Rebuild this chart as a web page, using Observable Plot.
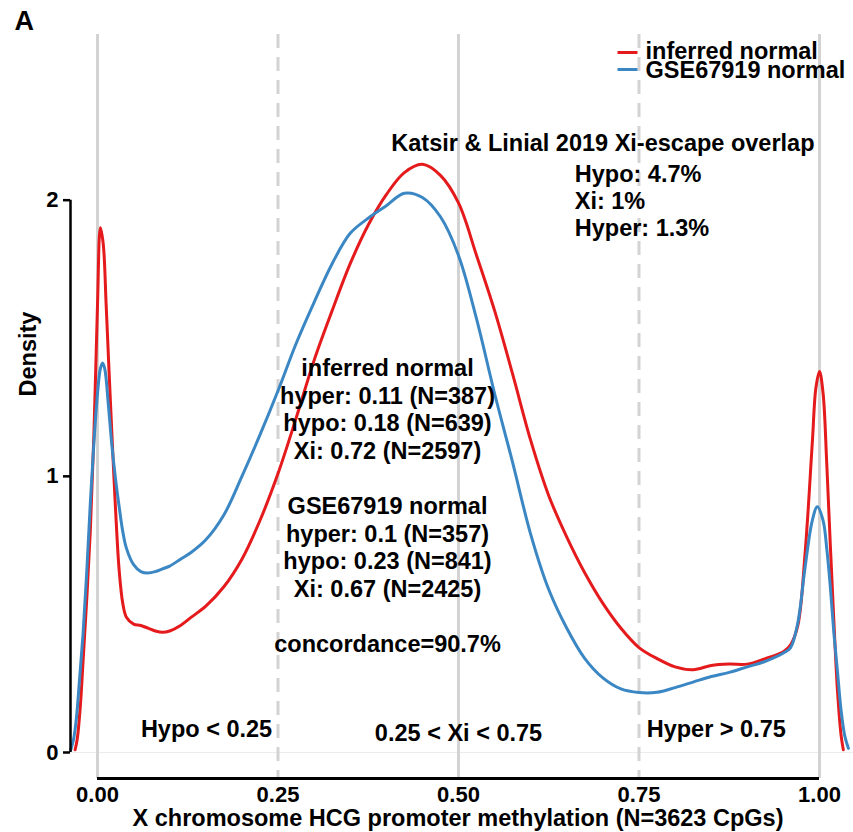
<!DOCTYPE html>
<html>
<head>
<meta charset="utf-8">
<script src="https://cdn.jsdelivr.net/npm/d3@7"></script>
<script src="https://cdn.jsdelivr.net/npm/@observablehq/plot@0.6"></script>
<style>
  html, body { margin: 0; padding: 0; background: #fff; }
</style>
</head>
<body>
<div id="chart"></div>
<script>
// ---- data ----
const seriesNames = ["inferred normal", "GSE67919 normal"];
const seriesColors = ["#E41A1C", "#3B87C4"];

const inferredX = [-0.031,-0.028,-0.024,-0.02,-0.015,-0.01,-0.005,0,0.004,0.008,0.012,0.016,0.02,0.025,0.03,0.035,0.04,0.05,0.06,0.07,0.08,0.09,0.10,0.115,0.13,0.15,0.175,0.20,0.225,0.25,0.275,0.30,0.325,0.35,0.375,0.40,0.425,0.45,0.475,0.50,0.525,0.55,0.575,0.60,0.625,0.65,0.675,0.70,0.725,0.75,0.775,0.80,0.825,0.85,0.875,0.90,0.925,0.95,0.96,0.97,0.98,0.99,0.995,1.0,1.005,1.01,1.015,1.02,1.025,1.03,1.033];
const inferredY = [0.01,0.05,0.16,0.33,0.55,0.80,1.15,1.62,1.90,1.84,1.62,1.38,1.15,0.88,0.66,0.54,0.49,0.465,0.46,0.45,0.44,0.435,0.44,0.46,0.49,0.53,0.60,0.70,0.84,1.01,1.21,1.42,1.60,1.77,1.91,2.02,2.10,2.13,2.09,1.99,1.80,1.60,1.37,1.13,0.93,0.78,0.65,0.54,0.45,0.38,0.34,0.31,0.30,0.315,0.32,0.32,0.34,0.365,0.39,0.46,0.72,1.12,1.32,1.38,1.30,1.05,0.75,0.47,0.22,0.06,0.01];

const gseX = [-0.037,-0.033,-0.029,-0.025,-0.02,-0.015,-0.01,-0.005,0,0.004,0.007,0.01,0.015,0.02,0.025,0.03,0.035,0.04,0.05,0.06,0.07,0.08,0.09,0.10,0.115,0.13,0.15,0.175,0.20,0.225,0.25,0.275,0.30,0.325,0.35,0.375,0.40,0.425,0.45,0.475,0.50,0.525,0.55,0.575,0.60,0.625,0.65,0.675,0.70,0.725,0.75,0.775,0.80,0.825,0.85,0.875,0.90,0.925,0.95,0.96,0.97,0.98,0.99,0.997,1.005,1.01,1.015,1.02,1.025,1.03,1.035,1.04];
const gseY = [0.01,0.05,0.13,0.26,0.43,0.65,0.90,1.12,1.30,1.39,1.41,1.39,1.26,1.11,0.99,0.89,0.80,0.74,0.68,0.655,0.65,0.655,0.665,0.675,0.70,0.725,0.77,0.86,1.00,1.15,1.31,1.48,1.63,1.77,1.88,1.935,1.98,2.025,2.01,1.94,1.80,1.57,1.30,1.05,0.79,0.59,0.45,0.34,0.27,0.23,0.217,0.218,0.235,0.255,0.275,0.29,0.31,0.33,0.36,0.38,0.47,0.67,0.84,0.89,0.84,0.74,0.60,0.43,0.29,0.15,0.06,0.015];

const xTicks = [0, 0.25, 0.5, 0.75, 1];
const yTicks = [0, 1, 2];
const solidGuides = [0, 0.5, 1];
const dashedGuides = [0.25, 0.75];

const regionLabels = ["Hypo < 0.25", "0.25 < Xi < 0.75", "Hyper > 0.75"];
const regionX = [0.151, 0.5, 0.857];
const regionY = [0.083, 0.069, 0.083];

const katsirTitle = "Katsir & Linial 2019 Xi-escape overlap";
const katsirLines = ["Hypo: 4.7%", "Xi: 1%", "Hyper: 1.3%"];
const statsLines = [
  "inferred normal", "hyper: 0.11 (N=387)", "hypo: 0.18 (N=639)", "Xi: 0.72 (N=2597)", "",
  "GSE67919 normal", "hyper: 0.1 (N=357)", "hypo: 0.23 (N=841)", "Xi: 0.67 (N=2425)", "",
  "concordance=90.7%"
];
const xTitle = "X chromosome HCG promoter methylation (N=3623 CpGs)";
const yTitle = "Density";
const panelTag = "A";

// ---- build rows ----
const rows = [
  ...inferredX.map((x, i) => ({x, y: inferredY[i], s: seriesNames[0]})),
  ...gseX.map((x, i) => ({x, y: gseY[i], s: seriesNames[1]}))
];

const xDomain = [-0.0374, 1.0471];
const yDomain = [-0.0942, 2.6];
const FS = 23.5;
const TFS = 22;

const lineSymbol = {
  draw(context, size) {
    const r = Math.sqrt(size / Math.PI);
    context.moveTo(-r, 0);
    context.lineTo(r, 0);
  }
};

const chart = Plot.plot({
  width: 853,
  height: 832,
  marginLeft: 70,
  marginRight: 0,
  marginTop: 34,
  marginBottom: 54,
  style: {fontFamily: "'Liberation Sans', Arial, Helvetica, sans-serif", fontWeight: "bold", color: "black", background: "white"},
  x: {domain: xDomain, axis: null},
  y: {domain: yDomain, axis: null},
  color: {domain: seriesNames, range: seriesColors},
  marks: [
    Plot.ruleY([0], {stroke: "#ececec", strokeWidth: 1}),
    Plot.ruleX(solidGuides, {stroke: "#d3d3d3", strokeWidth: 3}),
    Plot.ruleX(dashedGuides, {stroke: "#d3d3d3", strokeWidth: 3, strokeDasharray: "14,9"}),
    Plot.line(rows.filter(d => d.s === seriesNames[0]), {x: "x", y: "y", stroke: "s", strokeWidth: 3, curve: "catmull-rom"}),
    Plot.line(rows.filter(d => d.s === seriesNames[1]), {x: "x", y: "y", stroke: "s", strokeWidth: 3, curve: "catmull-rom"}),
    // axes
    Plot.axisY(yTicks, {anchor: "left", tickSize: 7, tickPadding: 4, strokeWidth: 2.5, label: null, tickFormat: () => ""}),
    Plot.text(yTicks, {y: d => d, frameAnchor: "left", textAnchor: "end", lineAnchor: "middle", dx: -12, fontSize: TFS, text: d => String(d)}),
    Plot.ruleX([xDomain[0]], {y1: yTicks[0], y2: yTicks[yTicks.length - 1], strokeWidth: 2.5, stroke: "black"}),
    Plot.text(xTicks, {x: d => d, frameAnchor: "bottom", lineAnchor: "middle", dy: 16, fontSize: TFS, text: d3.format(".2f")}),
    Plot.ruleY([yDomain[0]], {x1: xTicks[0], x2: xTicks[xTicks.length - 1], strokeWidth: 3, stroke: "black"}),
    Plot.text([xTitle], {frameAnchor: "bottom", lineAnchor: "middle", dx: -4, dy: 40, fontSize: FS}),
    Plot.text([yTitle], {frameAnchor: "left", lineAnchor: "middle", rotate: -90, dx: -42, dy: -10, fontSize: FS}),
    Plot.text([panelTag], {frameAnchor: "top-left", textAnchor: "start", lineAnchor: "middle", dx: -56, dy: -13, fontSize: 27}),
    // legend
    Plot.dot([seriesNames[0]], {frameAnchor: "top-right", dx: -226, dy: 18, r: 10, symbol: lineSymbol, fill: "none", stroke: seriesColors[0], strokeWidth: 3}),
    Plot.dot([seriesNames[1]], {frameAnchor: "top-right", dx: -226, dy: 35, r: 10, symbol: lineSymbol, fill: "none", stroke: seriesColors[1], strokeWidth: 3}),
    Plot.text([seriesNames[0]], {frameAnchor: "top-right", textAnchor: "start", lineAnchor: "middle", dx: -208, dy: 17, fontSize: FS}),
    Plot.text([seriesNames[1]], {frameAnchor: "top-right", textAnchor: "start", lineAnchor: "middle", dx: -208, dy: 36, fontSize: FS}),
    // annotations
    Plot.text([katsirTitle], {x: () => 0.70, y: () => 2.207, fontSize: FS}),
    Plot.text([katsirLines.join("\n")], {x: () => 0.661, y: () => 2.0, textAnchor: "start", lineHeight: 1.17, fontSize: FS}),
    Plot.text([statsLines.join("\n")], {x: () => 0.4017, y: () => 0.895, lineHeight: 1.175, fontSize: FS}),
    Plot.text(regionLabels, {x: (d, i) => regionX[i], y: (d, i) => regionY[i], fontSize: FS})
  ]
});

document.getElementById("chart").appendChild(chart);
</script>
</body>
</html>
